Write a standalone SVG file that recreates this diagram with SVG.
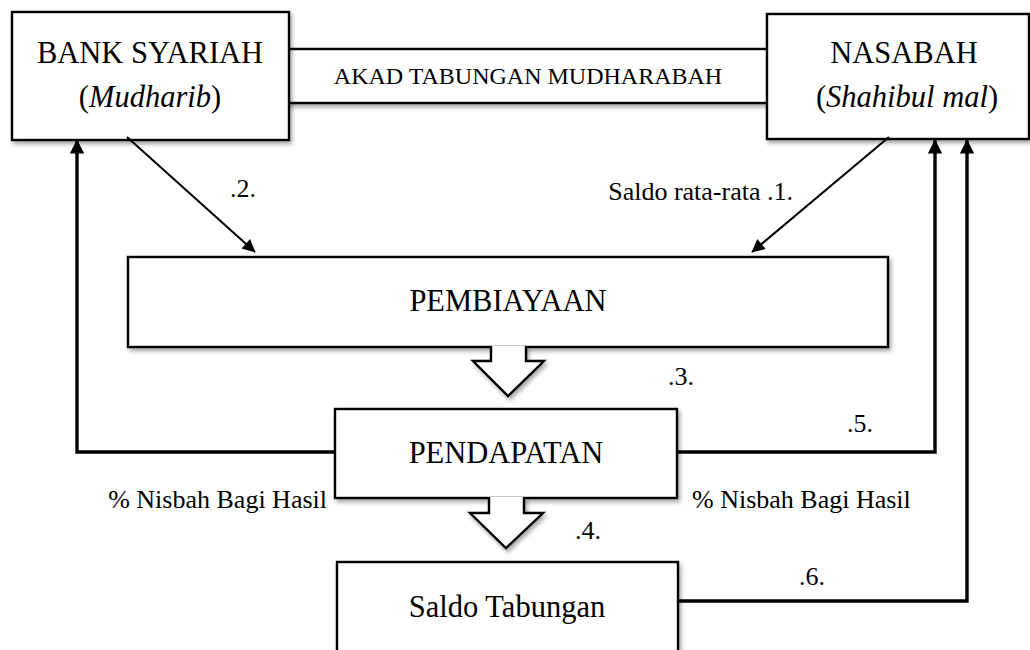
<svg xmlns="http://www.w3.org/2000/svg" width="1030" height="650" viewBox="0 0 1030 650">
<defs>
<style>
.box{fill:#fff;stroke:#000;stroke-width:2.4;filter:url(#sh)}
.t{font-family:"Liberation Serif","Times New Roman",serif;fill:#000}
.big{font-size:30.5px}
.mid{font-size:24px}
.sm{font-size:26px}
.thin{fill:none;stroke:#000;stroke-width:2}
.thick{fill:none;stroke:#000;stroke-width:3.4}
</style>
<filter id="sh" x="-10%" y="-10%" width="130%" height="140%">
<feDropShadow dx="2" dy="3" stdDeviation="2" flood-color="#000" flood-opacity="0.35"/>
</filter>
<marker id="ah" viewBox="0 0 10 10" refX="9.5" refY="5" markerWidth="8" markerHeight="6.5" markerUnits="strokeWidth" orient="auto">
<path d="M0,0 L10,5 L0,10 z" fill="#000"/>
</marker>
<marker id="ah2" viewBox="0 0 10 10" refX="9.5" refY="5" markerWidth="4.6" markerHeight="4.2" markerUnits="strokeWidth" orient="auto">
<path d="M0,0 L10,5 L0,10 z" fill="#000"/>
</marker>
</defs>

<g id="akad">
<rect class="box" x="282" y="49" width="490" height="54"/>
<text class="t mid" x="528" y="84" text-anchor="middle">AKAD TABUNGAN MUDHARABAH</text>
</g>

<g id="bank">
<rect class="box" x="12" y="12" width="277" height="128"/>
<text class="t big" x="150" y="63" text-anchor="middle">BANK SYARIAH</text>
<text class="t big" x="150" y="107" text-anchor="middle">(<tspan font-style="italic">Mudharib</tspan>)</text>
</g>

<g id="nasabah">
<rect class="box" x="767" y="14" width="262" height="125"/>
<text class="t big" x="904" y="63" text-anchor="middle">NASABAH</text>
<text class="t big" x="907" y="107" text-anchor="middle">(<tspan font-style="italic">Shahibul mal</tspan>)</text>
</g>

<g id="pembiayaan">
<rect class="box" x="128" y="257" width="760" height="90"/>
<text class="t big" x="508" y="311" text-anchor="middle">PEMBIAYAAN</text>
</g>

<g id="arrow3">
<path class="box" d="M491,346 L491,361 L473,361 L508,396 L544,361 L526,361 L526,346"/>
</g>

<g id="pendapatan">
<rect class="box" x="335" y="409" width="342" height="89"/>
<text class="t big" x="506" y="463" text-anchor="middle">PENDAPATAN</text>
</g>

<g id="arrow4">
<path class="box" d="M489,497 L489,513 L470,513 L506,548 L543,513 L524,513 L524,497"/>
</g>

<g id="saldo">
<rect class="box" x="337" y="562" width="341" height="100"/>
<text class="t big" x="507" y="617" text-anchor="middle">Saldo Tabungan</text>
</g>

<g id="connectors">
<line class="thin" x1="127" y1="137" x2="255" y2="252" marker-end="url(#ah)"/>
<line class="thin" x1="889" y1="137" x2="752" y2="252" marker-end="url(#ah)"/>
<polyline class="thick" points="335,452 77,452 77,140" marker-end="url(#ah2)"/>
<polyline class="thick" points="677,452 935,452 935,140" marker-end="url(#ah2)"/>
<polyline class="thick" points="678,601 967,601 967,140" marker-end="url(#ah2)"/>
</g>

<g id="labels">
<text class="t sm" x="230" y="197">.2.</text>
<text class="t sm" x="793" y="200" text-anchor="end">Saldo rata-rata .1.</text>
<text class="t sm" x="668" y="385">.3.</text>
<text class="t sm" x="575" y="539">.4.</text>
<text class="t sm" x="847" y="432">.5.</text>
<text class="t sm" x="799" y="585">.6.</text>
<text class="t sm" x="327" y="508" text-anchor="end">% Nisbah Bagi Hasil</text>
<text class="t sm" x="692" y="508">% Nisbah Bagi Hasil</text>
</g>
</svg>
